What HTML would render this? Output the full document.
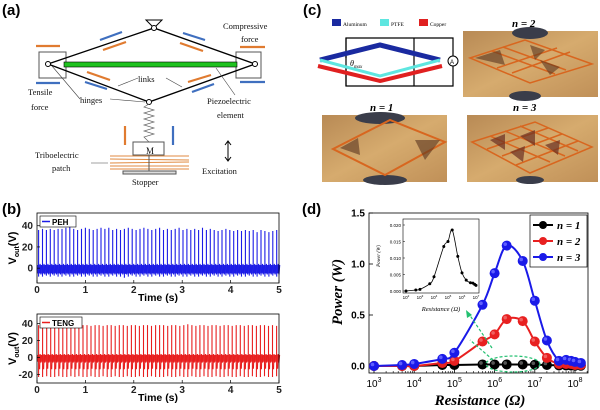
<!DOCTYPE html>
<html><head><meta charset="utf-8"><style>
body{margin:0;background:#fff;}
svg{display:block;font-family:"Liberation Sans",sans-serif;}
.ser{font-family:"Liberation Serif",serif;}
</style></head><body>
<svg id="fig" width="600" height="410" viewBox="0 0 600 410" xmlns="http://www.w3.org/2000/svg">
<!-- Panel labels -->
<text x="2" y="15" font-size="15" font-weight="bold">(a)</text>
<text x="303" y="15" font-size="15" font-weight="bold">(c)</text>
<text x="2" y="214" font-size="15" font-weight="bold">(b)</text>
<text x="302" y="214" font-size="15" font-weight="bold">(d)</text>

<!-- Panel A schematic -->
<g stroke="#000" fill="none" stroke-width="1">
  <path d="M146 20 L162 20 L154 28 Z"/>
  <rect x="39" y="52" width="27" height="26" stroke="#555"/>
  <rect x="236" y="52" width="25" height="26" stroke="#555"/>
  <rect x="64" y="62" width="173" height="5" fill="#1fc21f" stroke="#000" stroke-width="0.6"/>
  <polyline points="48,64 154,28 255,64 149,102 48,64" stroke-width="1.3"/>
  <circle cx="154" cy="28" r="2.5" fill="#fff"/>
  <circle cx="48" cy="64" r="2.5" fill="#fff"/>
  <circle cx="255" cy="64" r="2.5" fill="#fff"/>
  <circle cx="149" cy="102" r="2.5" fill="#fff"/>
  <polyline points="149,104 144,107 154,110 144,113 154,116 144,119 154,122 144,125 154,128 144,131 154,134 144,137 149,142" stroke="#666" stroke-width="0.7"/>
  <rect x="133" y="142" width="31" height="13" stroke="#555"/>
  <g stroke="#e08a40" stroke-width="1">
    <line x1="110" y1="156" x2="189" y2="156"/><line x1="110" y1="159" x2="189" y2="160"/>
    <line x1="110" y1="163" x2="189" y2="162"/><line x1="110" y1="166" x2="189" y2="166"/>
    <line x1="110" y1="169" x2="189" y2="169"/>
  </g>
  <line x1="149" y1="155" x2="149" y2="172" stroke="#555"/>
  <rect x="123" y="171" width="53" height="3" stroke="#555" fill="#ddd"/>
  <line x1="228" y1="142" x2="228" y2="160"/>
  <path d="M225 145 L228 141 L231 145 M225 157 L228 161 L231 157"/>
  <g stroke-width="2.2">
    <line x1="36" y1="46" x2="60" y2="46" stroke="#e07b30"/>
    <line x1="36" y1="83" x2="60" y2="83" stroke="#3f6fbf"/>
    <line x1="240" y1="47" x2="265" y2="47" stroke="#e07b30"/>
    <line x1="240" y1="82" x2="265" y2="82" stroke="#3f6fbf"/>
    <line x1="100" y1="40" x2="122" y2="32" stroke="#3f6fbf"/>
    <line x1="103" y1="50" x2="126" y2="42" stroke="#e07b30"/>
    <line x1="183" y1="33" x2="205" y2="40" stroke="#3f6fbf"/>
    <line x1="180" y1="43" x2="203" y2="51" stroke="#e07b30"/>
    <line x1="87" y1="72" x2="110" y2="80" stroke="#e07b30"/>
    <line x1="85" y1="82" x2="107" y2="89" stroke="#3f6fbf"/>
    <line x1="188" y1="82" x2="211" y2="75" stroke="#e07b30"/>
    <line x1="192" y1="92" x2="214" y2="84" stroke="#3f6fbf"/>
    <line x1="125" y1="126" x2="125" y2="145" stroke="#e07b30"/>
    <line x1="173" y1="126" x2="173" y2="145" stroke="#3f6fbf"/>
  </g>
  <g stroke="#444" stroke-width="0.6">
    <line x1="138" y1="78" x2="118" y2="86"/><line x1="166" y1="78" x2="182" y2="87"/>
    <line x1="110" y1="99" x2="145" y2="102"/><line x1="80" y1="99" x2="52" y2="66"/>
    <line x1="235" y1="95" x2="216" y2="68"/><line x1="91" y1="163" x2="108" y2="163"/>
  </g>
</g>
<g class="ser" font-size="8.5" fill="#111">
  <text x="223" y="29">Compressive</text><text x="241" y="42">force</text>
  <text x="28" y="95">Tensile</text><text x="31" y="110">force</text>
  <text x="138" y="82">links</text><text x="80" y="103">hinges</text>
  <text x="207" y="104">Piezoelectric</text><text x="217" y="118">element</text>
  <text x="146" y="154" font-size="9">M</text>
  <text x="35" y="158">Triboelectric</text><text x="52" y="171">patch</text>
  <text x="202" y="174">Excitation</text><text x="132" y="185">Stopper</text>
</g>

<!-- Panel C -->
<g>
  <rect x="332" y="19" width="9" height="7" fill="#1a2aa0"/>
  <text x="343" y="26" font-size="5.5" class="ser">Aluminum</text>
  <rect x="380" y="19" width="9" height="7" fill="#5ee6e0"/>
  <text x="391" y="26" font-size="5.5" class="ser">PTFE</text>
  <rect x="419" y="19" width="9" height="7" fill="#e02020"/>
  <text x="430" y="26" font-size="5.5" class="ser">Copper</text>
  <g fill="none" stroke="#000" stroke-width="1.2">
    <polyline points="346,58 346,38 453,38 453,56"/><polyline points="346,68 346,86 453,86 453,66"/>
    <line x1="414" y1="38" x2="414" y2="86"/><line x1="346" y1="38" x2="346" y2="86"/>
  </g>
  <circle cx="453" cy="61" r="5" fill="#fff" stroke="#000"/>
  <text x="450" y="64" font-size="6">A</text>
  <polyline points="320,60 380,45 440,60" fill="none" stroke="#1a2aa0" stroke-width="5"/>
  <polyline points="320,63 380,79 440,63" fill="none" stroke="#5ee6e0" stroke-width="3" transform="translate(0,-3)"/>
  <polyline points="318,66 380,81 442,66" fill="none" stroke="#e02020" stroke-width="4"/>
  <text x="350" y="66" font-size="8" class="ser" font-style="italic">θ<tspan font-size="5" dy="2">max</tspan></text>
  <defs>
    <linearGradient id="ph" x1="0" y1="0" x2="1" y2="1"><stop offset="0" stop-color="#b88a55"/><stop offset="0.5" stop-color="#d6ab6e"/><stop offset="1" stop-color="#c09058"/></linearGradient>
  </defs>
  <g>
    <rect x="463" y="31" width="135" height="66" fill="url(#ph)"/>
    <ellipse cx="530" cy="33" rx="18" ry="6" fill="#3a3d4a"/><ellipse cx="525" cy="96" rx="16" ry="5" fill="#3a3d4a"/>
    <g stroke="#d8661f" stroke-width="1.5" fill="none">
      <path d="M470 58 L525 40 L592 64 L530 83 Z"/><path d="M492 51 L555 74"/><path d="M503 47 L566 70"/>
      <path d="M497 68 L557 48"/><path d="M512 73 L570 52"/></g>
    <path d="M475 58 L500 50 L505 65 Z M530 45 L545 50 L535 60 Z M540 60 L560 67 L550 75 Z" fill="#5a3520" opacity="0.6"/>
  </g>
  <g>
    <rect x="322" y="115" width="125" height="67" fill="url(#ph)"/>
    <ellipse cx="380" cy="118" rx="25" ry="6" fill="#3a3d4a"/><ellipse cx="385" cy="180" rx="22" ry="5" fill="#3a3d4a"/>
    <path d="M333 149 L390 120 L445 142 L385 175 Z" fill="none" stroke="#d8661f" stroke-width="2"/>
    <path d="M340 148 L358 138 L360 155 Z M415 140 L440 140 L425 160 Z" fill="#5a3520" opacity="0.6"/>
  </g>
  <g>
    <rect x="467" y="115" width="131" height="67" fill="url(#ph)"/>
    <ellipse cx="530" cy="180" rx="14" ry="4" fill="#3a3d4a"/>
    <g stroke="#d8661f" stroke-width="1.5" fill="none">
      <path d="M472 142 L535 122 L592 147 L530 173 Z"/>
      <path d="M490 136 L550 162"/><path d="M505 131 L565 156"/><path d="M520 126 L578 151"/>
      <path d="M487 149 L548 128"/><path d="M502 156 L562 134"/><path d="M516 165 L578 141"/></g>
    <path d="M490 140 L505 134 L505 150 Z M520 136 L535 130 L535 146 Z M510 152 L525 146 L523 162 Z M545 145 L560 140 L558 155 Z" fill="#6a2f22" opacity="0.7"/>
  </g>
  <g class="ser" font-size="11" font-weight="bold" font-style="italic">
    <text x="512" y="27">n = 2</text>
    <text x="370" y="111">n = 1</text>
    <text x="513" y="111">n = 3</text>
  </g>
</g>

<g id="panelB"></g>
<g id="panelD"></g>
</svg>
<script>
const NS="http://www.w3.org/2000/svg";
function mk(p,tag,attrs,txt){const e=document.createElementNS(NS,tag);for(const k in attrs)e.setAttribute(k,attrs[k]);if(txt!==undefined)e.textContent=txt;p.appendChild(e);return e;}

// ---- Panel B data ----
const timeTicks=[0,1,2,3,4,5];
const pehTicks=[0,20,40];
const tengTicks=[-20,0,20,40];
const pehPeaks=[36,37,36,37,36,37,37,38,39,37,36,37,38,37,36,37,38,37,38,36,37,36,37,38,37,36,37,38,37,36,37,38,36,37,36,37,38,36,37,36,37,36,38,36,37,36,35,36,37,36,35,36,35,36,35,36,34,36,35,34,35,36];
const pehMin=[-8,-8,-7,-8,-7,-8,-8,-7,-8,-8,-7,-8,-8,-7,-8,-8,-7,-8,-8,-7,-8,-8,-9,-8,-7,-8,-8,-7,-8,-8,-7,-8,-8,-7,-8,-8,-7,-8,-8,-7,-8,-8,-7,-8,-8,-7,-8,-8,-7,-8,-8,-7,-8,-8,-7,-8,-8,-7,-8,-8,-7,-8];
const tengPeaks=[38,38,37,38,38,37,38,38,37,38,37,38,38,37,38,38,37,38,38,37,38,38,37,38,38,37,38,38,37,38,38,38,37,38,38,37,38,39,38,37,38,38,37,38,38,37,38,38,37,38,38,37,38,38,37,38,38,37,38,37];
const tengMin=[-23,-23,-22,-23,-23,-22,-23,-23,-22,-23,-22,-23,-23,-22,-23,-23,-22,-23,-23,-22,-23,-23,-22,-23,-23,-22,-23,-23,-22,-23,-23,-23,-22,-23,-23,-22,-23,-23,-22,-23,-23,-22,-23,-23,-22,-23,-23,-22,-23,-23,-22,-23,-23,-22,-23,-23,-22,-23,-23,-22];

const B=document.getElementById('panelB');
function tsPlot(cfg){
  const {top,bot,vTop,vBot,ticks,peaks,mins,color,name,legend}=cfg;
  const L=37,R=279;
  const sx=t=>L+(t/5)*(R-L);
  const sy=v=>top+(vTop-v)/(vTop-vBot)*(bot-top);
  const g=mk(B,'g',{});
  
  
  // band around zero
  const n=peaks.length;
  let d='';
  for(let i=0;i<n;i++){
    const t=(i+0.4)*5/n;
    const x=sx(t);
    d+=`M${x.toFixed(1)} ${sy(mins[i]).toFixed(1)} L${x.toFixed(1)} ${sy(peaks[i]).toFixed(1)} `;
    d+=`M${(x+1).toFixed(1)} ${sy(mins[i]*0.6).toFixed(1)} L${(x+1.5).toFixed(1)} ${sy(4).toFixed(1)} L${(x+2.3).toFixed(1)} ${sy(-6).toFixed(1)} L${(x+3).toFixed(1)} ${sy(3).toFixed(1)} `;
  }
  const band=mk(g,'rect',{x:L,y:sy(3),width:R-L,height:sy(-5)-sy(3),fill:color,opacity:0.85});
  
  
  const p=mk(g,'path',{d:d,stroke:color,'stroke-width':1.1,fill:'none'});
  
  
  const fr=mk(g,'rect',{x:L,y:top,width:R-L,height:bot-top,fill:'none',stroke:'#000','stroke-width':0.8});
  
  
  ticks.forEach(v=>{
    mk(g,'line',{x1:L,x2:L+3,y1:sy(v),y2:sy(v),stroke:'#000','stroke-width':0.7});
    const tl=mk(g,'text',{x:L-4,y:sy(v)+3.5,'font-size':10,'font-weight':'bold','text-anchor':'end',fill:'#222'},String(v));
    
    
  });
  timeTicks.forEach(t=>{
    mk(g,'line',{x1:sx(t),x2:sx(t),y1:bot,y2:bot-3,stroke:'#000','stroke-width':0.7});
    const tl=mk(g,'text',{x:sx(t),y:bot+10,'font-size':10,'font-weight':'bold','text-anchor':'middle',fill:'#222'},String(t));
    
    
  });
  const xt=mk(g,'text',{x:158,y:bot+18,'font-size':10.5,'font-weight':'bold','text-anchor':'middle'},'Time (s)');
  
  
  const yt=mk(g,'text',{x:0,y:0,'font-size':11,'font-weight':'bold','text-anchor':'middle',transform:`translate(16,${(top+bot)/2}) rotate(-90)`});
  
  
  yt.innerHTML='V<tspan font-size="7" dy="3">out</tspan><tspan dy="-3">(V)</tspan>';
  const lg=mk(g,'g',{});
  
  
  mk(lg,'rect',{x:L+3,y:top+3,width:legend.length*6+18,height:11,fill:'#fff',stroke:'#000','stroke-width':0.6});
  mk(lg,'line',{x1:L+5,x2:L+13,y1:top+8.5,y2:top+8.5,stroke:color,'stroke-width':1.5});
  mk(lg,'text',{x:L+15,y:top+12,'font-size':8,'font-weight':'bold'},legend);
}
tsPlot({top:213,bot:283,vTop:52,vBot:-14,ticks:pehTicks,peaks:pehPeaks,mins:pehMin,color:'#1c1ce6',name:'peh-chart',legend:'PEH'});
tsPlot({top:314,bot:383,vTop:51,vBot:-30,ticks:tengTicks,peaks:tengPeaks,mins:tengMin,color:'#e81e1e',name:'teng-chart',legend:'TENG'});

// ---- Panel D data ----
const resistance=[1e3,5e3,1e4,5e4,1e5,5e5,1e6,2e6,5e6,1e7,2e7,4e7,6e7,8e7,1e8,1.4e8];
const powerN3=[0,0.01,0.02,0.07,0.13,0.6,0.91,1.18,1.03,0.64,0.25,0.05,0.06,0.05,0.04,0.03];
const powerN2=[0,0,0,0.03,0.05,0.24,0.31,0.46,0.44,0.24,0.08,0.02,0.02,0.02,0.01,0.01];
const powerN1=[0,0,0,0.01,0.01,0.015,0.015,0.015,0.015,0.012,0.01,0.005,0.005,0.004,0.003,0.003];
const powerTicks=[0,0.5,1.0,1.5];
const decadeTicks=[3,4,5,6,7,8];
const insetR=[1e2,5e2,1e3,5e3,1e4,5e4,1e5,2e5,5e5,1e6,2e6,4e6,6e6,8e6,1e7];
const insetP=[0,0.0003,0.0005,0.0022,0.0043,0.0135,0.015,0.0185,0.0105,0.0055,0.0033,0.0025,0.0024,0.002,0.0017];
const insetTicks=[0,0.005,0.010,0.015,0.020];

const D=document.getElementById('panelD');
const dL=369,dR=588,dT=213,dB=373;
const dx=r=>374+(Math.log10(r)-3)*40.2;
const dy=p=>366-p*102;
function smooth(pts){
  let d=`M${pts[0][0]} ${pts[0][1]}`;
  for(let i=0;i<pts.length-1;i++){
    const p0=pts[Math.max(0,i-1)],p1=pts[i],p2=pts[i+1],p3=pts[Math.min(pts.length-1,i+2)];
    const c1=[p1[0]+(p2[0]-p0[0])/6,p1[1]+(p2[1]-p0[1])/6],c2=[p2[0]-(p3[0]-p1[0])/6,p2[1]-(p3[1]-p1[1])/6];
    d+=` C${c1[0].toFixed(1)} ${c1[1].toFixed(1)} ${c2[0].toFixed(1)} ${c2[1].toFixed(1)} ${p2[0].toFixed(1)} ${p2[1].toFixed(1)}`;
  }
  return d;
}
const fr=mk(D,'rect',{x:dL,y:dT,width:dR-dL,height:dB-dT,fill:'none',stroke:'#000','stroke-width':0.8});


powerTicks.forEach(v=>{
  mk(D,'line',{x1:dL,x2:dL+4,y1:dy(v),y2:dy(v),stroke:'#000','stroke-width':0.8});
  const t=mk(D,'text',{x:dL-4,y:dy(v)+3.5,'font-size':10,'font-weight':'bold','text-anchor':'end'},v.toFixed(1));
  
  
});
decadeTicks.forEach(e=>{
  const x=dx(Math.pow(10,e));
  mk(D,'line',{x1:x,x2:x,y1:dB,y2:dB-4,stroke:'#000','stroke-width':0.8});
  for(let k=2;k<10;k++){const xm=dx(k*Math.pow(10,e));if(xm<dR)mk(D,'line',{x1:xm,x2:xm,y1:dB,y2:dB-2,stroke:'#000','stroke-width':0.6});}
  const t=mk(D,'text',{x:x,y:387,'font-size':10,'text-anchor':'middle'});
  
  
  t.innerHTML=`10<tspan font-size="7" dy="-5">${e}</tspan>`;
});
const xt=mk(D,'text',{x:480,y:405,'font-size':15,'font-weight':'bold','font-style':'italic','text-anchor':'middle','font-family':'Liberation Serif, serif'},'Resistance (Ω)');


const yt=mk(D,'text',{x:0,y:0,'font-size':15,'font-weight':'bold','font-style':'italic','text-anchor':'middle','font-family':'Liberation Serif, serif',transform:`translate(342,292) rotate(-90)`},'Power (W)');



const series=[[powerN1,'#000','#555','series-n1'],[powerN2,'#e82020','#f06060','series-n2'],[powerN3,'#1a1ae8','#6060ff','series-n3']];
series.forEach(([vals,c,hl,nm])=>{
  const g=mk(D,'g',{});
  
  
  const pts=resistance.map((r,i)=>[dx(r),dy(vals[i])]);
  mk(g,'path',{d:smooth(pts),fill:'none',stroke:c,'stroke-width':2});
  pts.forEach(p=>{
    const m=mk(g,'circle',{cx:p[0],cy:p[1],r:5,fill:c});
    
    
    mk(g,'circle',{cx:p[0]-1.5,cy:p[1]-1.5,r:1.8,fill:hl});
  });
});
// green annotation
const ga=mk(D,'g',{fill:'none',stroke:'#22c070','stroke-width':1.2,'stroke-dasharray':'3,2'});


mk(ga,'ellipse',{cx:513,cy:364,rx:27,ry:8});
mk(ga,'line',{x1:492,y1:348,x2:469,y2:314});
mk(ga,'line',{x1:493,y1:360,x2:470,y2:340});
mk(D,'path',{d:'M466 310 L467 318 L472 315 Z',fill:'#22c070'});
// legend
const lg=mk(D,'g',{});


mk(lg,'rect',{x:530,y:215,width:57,height:52,fill:'#fff',stroke:'#000','stroke-width':0.7});
[['n = 1','#000'],['n = 2','#e82020'],['n = 3','#1a1ae8']].forEach((e,i)=>{
  const y=225+i*16;
  const le=mk(lg,'g',{});
  
  
  mk(le,'line',{x1:533,x2:553,y1:y,y2:y,stroke:e[1],'stroke-width':2});
  mk(le,'circle',{cx:543,cy:y,r:4,fill:e[1]});
  mk(le,'text',{x:557,y:y+4,'font-size':11,'font-weight':'bold','font-style':'italic','font-family':'Liberation Serif, serif'},e[0]);
});
// inset
const iL=403,iR=479,iT=219,iB=293;
const ix=r=>iL+3+(Math.log10(r)-2)*(iR-iL-6)/5;
const iy=p=>iB-2-p*(iB-iT-8)/0.02;
const ig=mk(D,'g',{});


mk(ig,'rect',{x:iL,y:iT,width:iR-iL,height:iB-iT,fill:'#fff',stroke:'#000','stroke-width':0.6});
insetTicks.forEach(v=>{
  mk(ig,'line',{x1:iL,x2:iL+2,y1:iy(v),y2:iy(v),stroke:'#000','stroke-width':0.5});
  mk(ig,'text',{x:iL-2,y:iy(v)+2,'font-size':4.5,'text-anchor':'end'},v.toFixed(3));
});
[2,3,4,5,6,7].forEach(e=>{
  const t=mk(ig,'text',{x:ix(Math.pow(10,e)),y:iB+6,'font-size':4.5,'text-anchor':'middle'});
  t.innerHTML=`10<tspan font-size="3" dy="-2">${e}</tspan>`;
});
mk(ig,'text',{x:441,y:311,'font-size':6.5,'font-style':'italic','text-anchor':'middle','font-family':'Liberation Serif, serif'},'Resistance (Ω)');
mk(ig,'text',{x:0,y:0,'font-size':5,'font-style':'italic','text-anchor':'middle','font-family':'Liberation Serif, serif',transform:'translate(380,256) rotate(-90)'},'Power (W)');
const ipts=insetR.map((r,i)=>[ix(r),iy(insetP[i])]);
mk(ig,'path',{d:smooth(ipts),fill:'none',stroke:'#000','stroke-width':0.8});
ipts.forEach(p=>{
  const m=mk(ig,'circle',{cx:p[0],cy:p[1],r:1.5,fill:'#000'});
  
  
});
</script>
</body></html>
